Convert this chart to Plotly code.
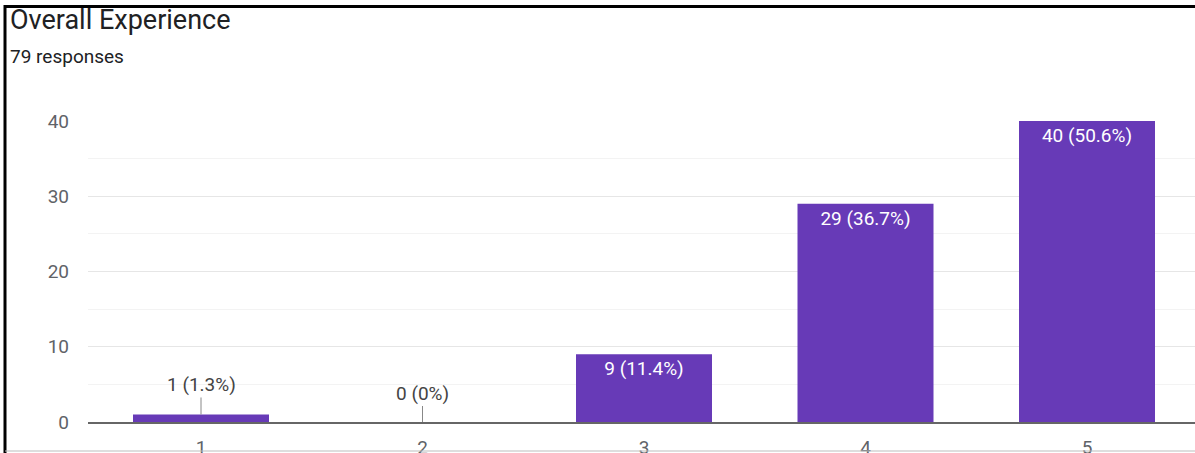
import plotly.graph_objects as go

# data
categories = [1, 2, 3, 4, 5]
counts = [1, 0, 9, 29, 40]
percents = ["1.3%", "0%", "11.4%", "36.7%", "50.6%"]
title_text = "Overall Experience"
subtitle_text = "79 responses"

W, H = 1195, 453
ML, MR, MT, MB = 88, 0, 121, 31
PW, PH = W - ML - MR, H - MT - MB
BAR_COLOR = "#673AB7"
FONT = "Roboto, Arial, sans-serif"
STEP = 221.5  # pixels between category centres
FIRST = 201   # pixel centre of the first category


def px_x(p):
    return (p - ML) / PW


def px_y(q):
    return (H - MB - q) / PH


labels = [f"{c} ({p})" for c, p in zip(counts, percents)]
inside = [lab if c >= 5 else "" for c, lab in zip(counts, labels)]

fig = go.Figure()
fig.add_trace(go.Bar(
    x=categories, y=counts, width=0.614,
    marker=dict(color=BAR_COLOR, line=dict(width=0)),
    text=inside, textposition="inside", insidetextanchor="end",
    constraintext="none", textangle=0,
    textfont=dict(color="white", size=19, family=FONT),
    hoverinfo="skip",
))

# small bars get their label above with a leader line
for cat, c, lab in zip(categories, counts, labels):
    if c < 5:
        fig.add_annotation(
            x=cat, y=c, text=lab, showarrow=True, arrowhead=0,
            arrowwidth=1, arrowcolor="#888888", ax=0, ay=-30 if c else -29,
            font=dict(size=19, color="#444444", family=FONT),
        )

fig.add_annotation(xref="paper", yref="paper", x=px_x(8), y=px_y(20),
                   xanchor="left", yanchor="middle", showarrow=False,
                   text=title_text, font=dict(size=27, color="#202124", family=FONT))
fig.add_annotation(xref="paper", yref="paper", x=px_x(8), y=px_y(56),
                   xanchor="left", yanchor="middle", showarrow=False,
                   text=subtitle_text, font=dict(size=19, color="#202124", family=FONT))

# frame around the screenshot
fig.add_shape(type="line", xref="paper", yref="paper", x0=px_x(5), x1=px_x(5),
              y0=px_y(5), y1=px_y(H + 2), line=dict(color="black", width=3))
fig.add_shape(type="line", xref="paper", yref="paper", x0=px_x(4), x1=px_x(W + 2),
              y0=px_y(6.5), y1=px_y(6.5), line=dict(color="black", width=3))
fig.add_shape(type="line", xref="paper", yref="paper", x0=px_x(5), x1=px_x(W + 2),
              y0=px_y(451), y1=px_y(451), line=dict(color="#bdbdbd", width=1))

x0 = 1 - (FIRST - ML) / STEP
fig.update_layout(
    width=W, height=H, autosize=False,
    margin=dict(l=ML, r=MR, t=MT, b=MB, pad=0, autoexpand=False),
    paper_bgcolor="white", plot_bgcolor="white",
    showlegend=False,
    font=dict(family=FONT, size=19, color="#5f6368"),
)
fig.update_xaxes(
    range=[x0, x0 + PW / STEP], tickvals=categories, ticktext=[str(c) for c in categories],
    showgrid=False, showline=True, linecolor="#666666", linewidth=2,
    ticks="", ticklabelstandoff=7, tickfont=dict(size=19, color="#5f6368"),
    zeroline=False, automargin=False,
)
fig.update_yaxes(
    range=[0, 40], dtick=10, showgrid=True, gridcolor="#e6e6e6", gridwidth=1,
    minor=dict(dtick=5, showgrid=True, gridcolor="#f3f3f3", gridwidth=1),
    zeroline=False, showline=False, ticks="", ticklabelstandoff=18,
    tickfont=dict(size=19, color="#5f6368"), automargin=False,
)

# the page's default body margin would push the figure 8px in
fig.write_html(
    "out.html",
    config={"displayModeBar": False},
    post_script="document.body.style.margin='0';document.body.style.overflow='hidden';",
)
